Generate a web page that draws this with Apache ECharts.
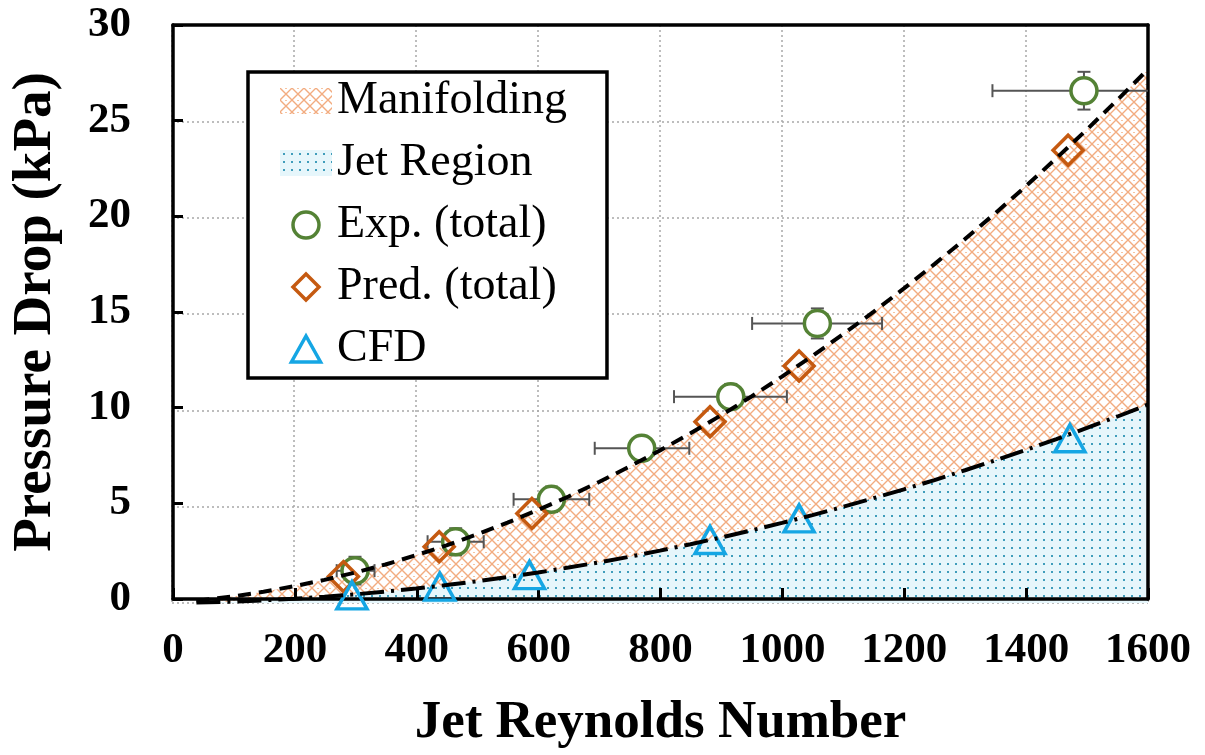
<!DOCTYPE html>
<html>
<head>
<meta charset="utf-8">
<script src="https://cdn.jsdelivr.net/npm/echarts@6/dist/echarts.min.js"></script>
<style>
  html, body { margin: 0; padding: 0; background: #fff; }
  #chart { width: 1205px; height: 755px; }
</style>
</head>
<body>
<div id="chart"></div>
<script>
// Jet Reynolds numbers at which the two model curves are sampled
const curveRe = [40, 100, 150, 200, 250, 300, 350, 400, 450, 500, 550, 600, 650, 700, 750, 800,
  850, 900, 950, 1000, 1050, 1100, 1150, 1200, 1250, 1300, 1350, 1400, 1450, 1500, 1550, 1600];
// Predicted total pressure drop (kPa) - dashed curve, top of the manifolding band
const totalDrop = [0.11, 0.34, 0.58, 0.87, 1.20, 1.58, 2.00, 2.48, 2.99, 3.56, 4.17, 4.83, 5.53,
  6.28, 7.08, 7.92, 8.81, 9.74, 10.72, 11.75, 12.83, 13.95, 15.11, 16.33, 17.59, 18.89, 20.24,
  21.64, 23.09, 24.58, 26.12, 27.70];
// Jet-region pressure drop (kPa) - dash-dot curve
const jetDrop = [0.02, 0.07, 0.14, 0.22, 0.33, 0.45, 0.59, 0.75, 0.93, 1.13, 1.35, 1.58, 1.84,
  2.11, 2.40, 2.72, 3.05, 3.40, 3.77, 4.16, 4.56, 4.99, 5.44, 5.90, 6.38, 6.89, 7.41, 7.95,
  8.51, 9.09, 9.68, 10.30];

// Experimental totals with error ranges
const expRe = [300, 465, 622, 770, 916, 1058, 1495];
const expDrop = [1.68, 3.18, 5.38, 8.03, 10.71, 14.51, 26.59];
const expReLow = [270, 419, 560, 693, 823, 951, 1345];
const expReHigh = [332, 511, 684, 848, 1008, 1164, 1645];
const expDropErr = [0.72, 0.70, 0.66, 0.64, 0.66, 0.78, 0.98];

// Predicted totals
const predRe = [281, 438, 590, 882, 1028, 1469];
const predDrop = [1.37, 2.92, 4.65, 9.41, 12.30, 23.50];

// CFD results
const cfdRe = [295, 439, 586, 882, 1028, 1472];
const cfdDrop = [0.40, 0.85, 1.45, 3.27, 4.39, 8.55];

// Axis ranges
const reMin = 0, reMax = 1600, reStep = 200;
const dropMin = 0, dropMax = 30, dropStep = 5;

const SERIF = "'Liberation Serif', 'Times New Roman', 'DejaVu Serif', serif";

// Orange diagonal cross-hatch fill
function makeHatch() {
  const s = 12;
  const c = document.createElement('canvas');
  c.width = s; c.height = s;
  const g = c.getContext('2d');
  g.fillStyle = '#ffffff';
  g.fillRect(0, 0, s, s);
  g.strokeStyle = '#F2AC80';
  g.lineWidth = 1.4;
  g.beginPath();
  g.moveTo(-2, -2); g.lineTo(s + 2, s + 2);
  g.moveTo(s + 2, -2); g.lineTo(-2, s + 2);
  g.stroke();
  g.fillStyle = '#F6C4A2';
  g.fillRect(s / 2 - 1, 0, 2, 1);
  return c;
}

// Light blue fill with a grid of teal dots
function makeDots() {
  const s = 8;
  const c = document.createElement('canvas');
  c.width = s; c.height = s;
  const g = c.getContext('2d');
  g.fillStyle = '#E6F6FB';
  g.fillRect(0, 0, s, s);
  g.fillStyle = '#3F9DBB';
  g.fillRect(3, 3, 2, 2);
  return c;
}

const hatchFill = { image: makeHatch(), repeat: 'repeat' };
const dotsFill = { image: makeDots(), repeat: 'repeat' };

const totalPts = curveRe.map((x, i) => [x, totalDrop[i]]);
const jetPts = curveRe.map((x, i) => [x, jetDrop[i]]);
const expPts = expRe.map((x, i) => [x, expDrop[i]]);
const predPts = predRe.map((x, i) => [x, predDrop[i]]);
const cfdPts = cfdRe.map((x, i) => [x, cfdDrop[i]]);
const errPts = expRe.map((x, i) => [x, expDrop[i], expReLow[i], expReHigh[i],
  expDrop[i] - expDropErr[i], expDrop[i] + expDropErr[i]]);

const gridBox = { left: 172, right: 57, top: 25, bottom: 152 };

const hidden = { show: false };
const plain = (v) => String(v);

const chart = echarts.init(document.getElementById('chart'), null, { renderer: 'canvas' });

chart.setOption({
  animation: false,
  backgroundColor: '#ffffff',
  grid: [
    Object.assign({ containLabel: false }, gridBox),
    Object.assign({ containLabel: false }, gridBox)
  ],
  xAxis: [
    // grid lines under the fills
    { gridIndex: 0, type: 'value', min: reMin, max: reMax, interval: reStep, z: 0,
      axisLine: hidden, axisTick: hidden, axisLabel: hidden,
      splitLine: { show: true, lineStyle: { color: '#A8A8A8', width: 1.5, type: [2, 3] } } },
    // bottom axis drawn on top
    { gridIndex: 1, type: 'value', min: reMin, max: reMax, interval: reStep, position: 'bottom', z: 5,
      axisLine: { show: true, onZero: false, lineStyle: { color: '#000', width: 3.5 } },
      axisTick: { show: true, inside: true, length: 11, lineStyle: { color: '#000', width: 3 } },
      axisLabel: { margin: 30, fontFamily: SERIF, fontWeight: 'bold', fontSize: 43, color: '#000',
        formatter: plain },
      splitLine: hidden,
      name: 'Jet Reynolds Number', nameLocation: 'middle', nameGap: 98,
      nameTextStyle: { fontFamily: SERIF, fontWeight: 'bold', fontSize: 53, color: '#000' } },
    // top frame
    { gridIndex: 1, type: 'value', min: reMin, max: reMax, interval: reStep, position: 'top', z: 5,
      axisLine: { show: true, onZero: false, lineStyle: { color: '#000', width: 3.5 } },
      axisTick: hidden, axisLabel: hidden, splitLine: hidden }
  ],
  yAxis: [
    { gridIndex: 0, type: 'value', min: dropMin, max: dropMax, interval: dropStep, z: 0,
      axisLine: hidden, axisTick: hidden, axisLabel: hidden,
      splitLine: { show: true, lineStyle: { color: '#A8A8A8', width: 1.5, type: [2, 3] } } },
    { gridIndex: 1, type: 'value', min: dropMin, max: dropMax, interval: dropStep, position: 'left', z: 5,
      axisLine: { show: true, onZero: false, lineStyle: { color: '#000', width: 3.5 } },
      axisTick: { show: true, inside: true, length: 10, lineStyle: { color: '#000', width: 3 } },
      axisLabel: { margin: 42, fontFamily: SERIF, fontWeight: 'bold', fontSize: 43, color: '#000',
        formatter: plain },
      splitLine: hidden,
      name: 'Pressure Drop (kPa)', nameLocation: 'middle', nameGap: 110,
      nameTextStyle: { fontFamily: SERIF, fontWeight: 'bold', fontSize: 55, color: '#000' } },
    { gridIndex: 1, type: 'value', min: dropMin, max: dropMax, interval: dropStep, position: 'right', z: 5,
      axisLine: { show: true, onZero: false, lineStyle: { color: '#000', width: 3.5 } },
      axisTick: hidden, axisLabel: hidden, splitLine: hidden }
  ],
  legend: {
    orient: 'vertical',
    left: 248, top: 72,
    padding: [6, 40, 6, 32],
    itemGap: 16,
    itemWidth: 52, itemHeight: 26,
    backgroundColor: '#ffffff',
    borderColor: '#000', borderWidth: 3.5, borderRadius: 0,
    selectedMode: false,
    z: 8,
    textStyle: { fontFamily: SERIF, fontSize: 46, color: '#000' },
    data: [
      { name: 'Manifolding', icon: 'rect', itemStyle: { color: hatchFill, borderWidth: 0 } },
      { name: 'Jet Region', icon: 'rect', itemStyle: { color: dotsFill, borderWidth: 0 } },
      { name: 'Exp. (total)', icon: 'circle',
        itemStyle: { color: '#ffffff', borderColor: '#548235', borderWidth: 3.5 } },
      { name: 'Pred. (total)', icon: 'path://M13,0L26,13L13,26L0,13Z',
        itemStyle: { color: 'rgba(255,255,255,0)', borderColor: '#C55A11', borderWidth: 3.5 } },
      { name: 'CFD', icon: 'path://M14,0L28,25L0,25Z',
        itemStyle: { color: 'rgba(255,255,255,0)', borderColor: '#15A6E4', borderWidth: 3.5 } }
    ]
  },
  series: [
    { name: 'Manifolding', type: 'line', xAxisIndex: 0, yAxisIndex: 0, data: totalPts,
      symbol: 'none', silent: true, z: 1,
      lineStyle: { width: 0 }, areaStyle: { color: hatchFill, opacity: 1 } },
    { name: 'Jet Region', type: 'line', xAxisIndex: 0, yAxisIndex: 0, data: jetPts,
      symbol: 'none', silent: true, z: 2,
      lineStyle: { width: 0 }, areaStyle: { color: dotsFill, opacity: 1 } },
    { name: 'Exp. error', type: 'custom', xAxisIndex: 0, yAxisIndex: 0, data: errPts, z: 6,
      silent: true,
      encode: { x: 0, y: 1 },
      renderItem: function (params, api) {
        const cs = params.coordSys;
        const right = cs.x + cs.width;
        const y0 = api.value(1);
        const c = api.coord([api.value(0), y0]);
        const l = api.coord([api.value(2), y0]);
        const r = api.coord([api.value(3), y0]);
        const b = api.coord([api.value(0), api.value(4)]);
        const t = api.coord([api.value(0), api.value(5)]);
        const cap = 6.5;
        const st = { stroke: '#555555', lineWidth: 2 };
        const kids = [];
        const rx = Math.min(r[0], right);
        kids.push({ type: 'line', shape: { x1: l[0], y1: c[1], x2: rx, y2: c[1] }, style: st });
        kids.push({ type: 'line', shape: { x1: l[0], y1: c[1] - cap, x2: l[0], y2: c[1] + cap }, style: st });
        if (r[0] <= right) {
          kids.push({ type: 'line', shape: { x1: r[0], y1: c[1] - cap, x2: r[0], y2: c[1] + cap }, style: st });
        }
        kids.push({ type: 'line', shape: { x1: c[0], y1: b[1], x2: c[0], y2: t[1] }, style: st });
        kids.push({ type: 'line', shape: { x1: c[0] - cap, y1: t[1], x2: c[0] + cap, y2: t[1] }, style: st });
        kids.push({ type: 'line', shape: { x1: c[0] - cap, y1: b[1], x2: c[0] + cap, y2: b[1] }, style: st });
        return { type: 'group', children: kids };
      } },
    { name: 'Exp. (total)', type: 'scatter', xAxisIndex: 0, yAxisIndex: 0, data: expPts, z: 7,
      symbol: 'circle', symbolSize: 26,
      itemStyle: { color: '#ffffff', borderColor: '#548235', borderWidth: 3.5, opacity: 1 } },
    { name: 'Pred. (total)', type: 'scatter', xAxisIndex: 0, yAxisIndex: 0, data: predPts, z: 7,
      symbol: 'diamond', symbolSize: [30, 30],
      itemStyle: { color: 'rgba(255,255,255,0)', borderColor: '#C55A11', borderWidth: 3.5, opacity: 1 } },
    { name: 'CFD', type: 'scatter', xAxisIndex: 0, yAxisIndex: 0, data: cfdPts, z: 7,
      symbol: 'triangle', symbolSize: [30, 27],
      itemStyle: { color: 'rgba(255,255,255,0)', borderColor: '#15A6E4', borderWidth: 3.5, opacity: 1 } },
    { name: 'Total curve', type: 'line', xAxisIndex: 0, yAxisIndex: 0, data: totalPts,
      symbol: 'none', silent: true, z: 8, smooth: false,
      lineStyle: { color: '#000', width: 4, type: [13, 8] } },
    { name: 'Jet curve', type: 'line', xAxisIndex: 0, yAxisIndex: 0, data: jetPts,
      symbol: 'none', silent: true, z: 8, smooth: false,
      lineStyle: { color: '#000', width: 4, type: [24, 7, 3, 7] } }
  ]
});
</script>
</body>
</html>
